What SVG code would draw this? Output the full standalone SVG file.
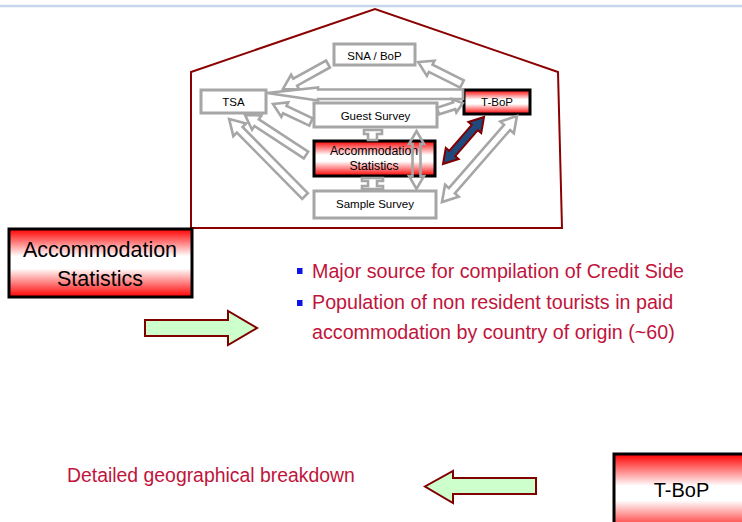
<svg xmlns="http://www.w3.org/2000/svg" width="742" height="522" viewBox="0 0 742 522">
<defs>
<linearGradient id="red" x1="0" y1="0" x2="0" y2="1">
<stop offset="0" stop-color="#ff0000"/>
<stop offset="0.4" stop-color="#ffffff"/>
<stop offset="0.58" stop-color="#ffffff"/>
<stop offset="1" stop-color="#ff0000"/>
</linearGradient>
<style>
.gray{fill:#ffffff;stroke:#a6a6a6;stroke-width:3}
.redbox{fill:url(#red);stroke:#000000;stroke-width:3}
.t{font-family:"Liberation Sans",Arial,sans-serif;fill:#000000;text-anchor:middle}
.s{font-size:11.5px}
.red{font-family:"Liberation Sans",Arial,sans-serif;fill:#c0143c}
.ga{fill:#ffffff;stroke:#a6a6a6;stroke-width:2.6;stroke-linejoin:miter}
.gn{fill:none;stroke:#a6a6a6;stroke-width:2.6}
.green{fill:#ccffcc;stroke:#800000;stroke-width:2}
</style>
</defs>
<rect width="742" height="522" fill="#ffffff"/>
<line x1="0" y1="6" x2="742" y2="6" stroke="#c6d6ec" stroke-width="2.5"/>
<polygon id="house" points="191,228 191,72 375,9 558,72 562,228" fill="none" stroke="#8b0000" stroke-width="2"/>

<g id="node-sna"><rect class="gray" x="334" y="44" width="81" height="21"/><text class="t s" x="374.5" y="60">SNA / BoP</text></g>
<g id="node-tsa"><rect class="gray" x="201" y="90" width="65" height="23"/><text class="t s" x="233.5" y="106">TSA</text></g>
<g id="node-guest"><rect class="gray" x="314" y="103" width="123" height="24"/><text class="t s" x="375.5" y="120">Guest Survey</text></g>
<g id="node-tbop-small"><rect class="redbox" x="464" y="90" width="66" height="24" stroke-width="2.5"/><text class="t s" x="497" y="106">T-BoP</text></g>
<g id="node-accom-small"><rect class="redbox" x="314" y="141" width="121" height="35"/><text class="t" x="374" y="155" font-size="12.3">Accommodation</text><text class="t" x="374" y="170" font-size="12.3">Statistics</text></g>
<g id="node-sample"><rect class="gray" x="314" y="191" width="122" height="27"/><text class="t s" x="375" y="208">Sample Survey</text></g>

<g id="connectors">
<path class="ga" transform="translate(328,64) rotate(151)" d="M0,-4 H37.5 V-8.5 L51.5,0 L37.5,8.5 V4 H0 Z"/>
<path class="ga" transform="translate(462,84) rotate(206.6)" d="M0,-4 H35 V-8.5 L49,0 L35,8.5 V4 H0 Z"/>
<path class="ga" d="M463,89.5 H318 V87.5 L267,93 L318,100.5 V99 H463 Z"/>
<path class="ga" transform="translate(438,111) rotate(-17.7)" d="M0,-3.5 H17 V-7 L26,0 L17,7 V3.5 H0 Z"/>
<path class="ga" transform="translate(311,122) rotate(205.3)" d="M0,-4 H29 V-8 L42,0 L29,8 V4 H0 Z"/>
<path class="ga" transform="translate(306,155) rotate(213.3)" d="M0,-4 H59 V-8.5 L73,0 L59,8.5 V4 H0 Z"/>
<path class="ga" transform="translate(305,196) rotate(225.4)" d="M0,-4 H93 V-9 L108,0 L93,9 V4 H0 Z"/>
<path transform="translate(443,164) rotate(-48.9)" d="M0,0 L14,-8.5 V-4 H48.4 V-8.5 L62.4,0 L48.4,8.5 V4 H14 V8.5 Z" fill="#1f497d" stroke="#800000" stroke-width="2"/>
<path class="ga" transform="translate(442,202) rotate(-48.9)" d="M0,0 L15,-9 V-4 H99 V-9 L114,0 L99,9 V4 H15 V9 Z"/>
<path class="gn" transform="translate(416.5,131) rotate(90)" d="M0,0 L13,-7.5 V-4 H45 V-7.5 L58,0 L45,7.5 V4 H13 V7.5 Z"/>
<polygon class="ga" points="364,130 382,130 382,134 377,134 377,140 368,140 368,134 364,134"/>
<polygon class="ga" points="362,178 383,178 383,181 377,181 377,186 383,186 383,189 362,189 362,186 368,186 368,181 362,181"/>
<path class="green" d="M145,320 H228 V311 L257,328 L228,345 V336 H145 Z"/>
<path class="green" d="M536,478 H453 V471 L425,486.5 L453,503 V494 H536 Z"/>
</g>

<g id="node-accom-big"><rect class="redbox" x="9" y="229" width="183" height="68"/><text class="t" x="100" y="257" font-size="21.5">Accommodation</text><text class="t" x="100" y="286" font-size="21.5">Statistics</text></g>

<g id="bullets">
<rect x="297" y="268" width="5.5" height="6" fill="#0a14e6"/>
<text class="red" x="312" y="278" font-size="19.7">Major source for compilation of Credit Side</text>
<rect x="297" y="300" width="5.5" height="6" fill="#0a14e6"/>
<text class="red" x="312" y="309" font-size="19.7">Population of non resident tourists in paid</text>
<text class="red" x="312" y="339" font-size="19.7">accommodation by country of origin (~60)</text>
</g>

<g id="node-detail"><text class="red" x="67" y="482" font-size="19.4">Detailed geographical breakdown</text></g>
<g id="node-tbop-big"><rect class="redbox" x="614" y="454" width="140" height="80"/><text class="t" x="681.5" y="497" font-size="20">T-BoP</text></g>
</svg>
